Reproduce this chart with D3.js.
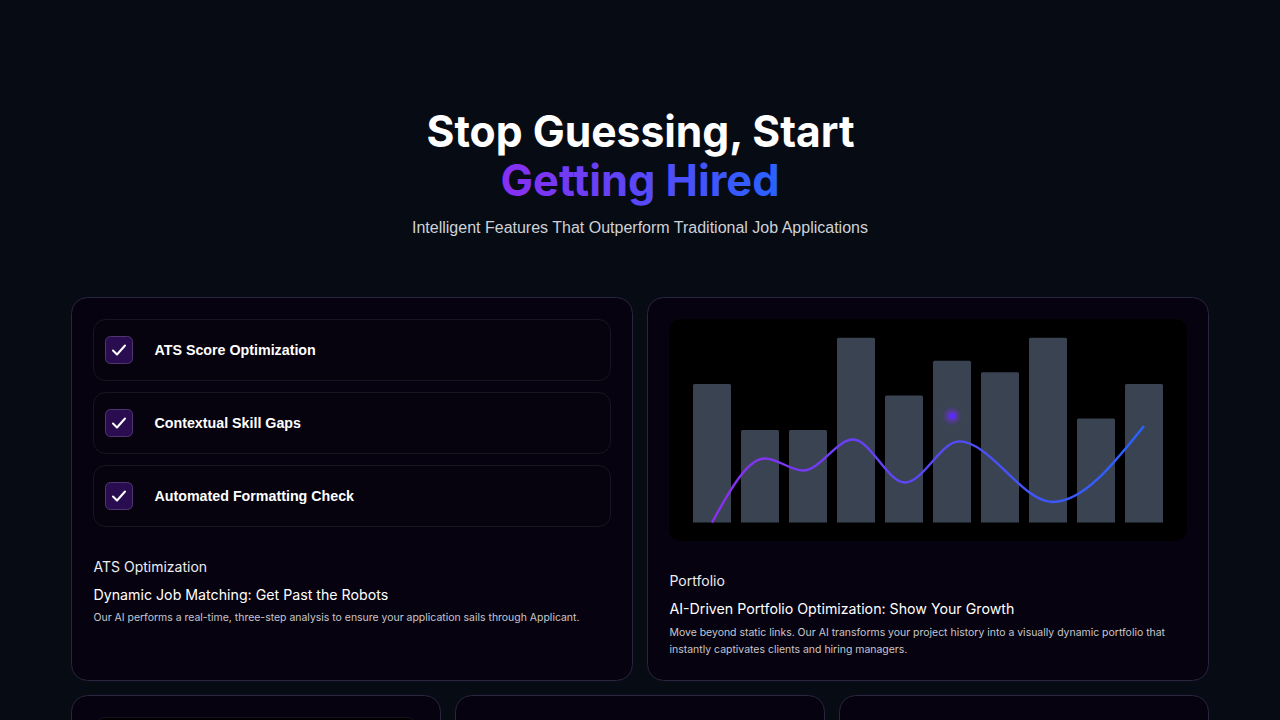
<!DOCTYPE html>
<html><head><meta charset="utf-8">
<script src="https://cdn.jsdelivr.net/npm/d3@7"></script>
<style>html,body{margin:0;padding:0;background:#070b13;overflow:hidden}svg{display:block}</style>
</head><body>
<script>
const barLabels = ["1","2","3","4","5","6","7","8","9","10"];
const barValues = [60,40,40,80,55,70,65,80,45,60];
const lineIndex = [0,1.104,1.896,2.94,4.02,5.146,7.104,9];
const lineValues = [0,27.7,22.5,35.9,17.3,35.1,8.9,41.8];
const features = ["ATS Score Optimization","Contextual Skill Gaps","Automated Formatting Check"];

const W=1280,H=720;
const C0="#8a2ef0",C1="#2962ff";
const svg=d3.select("body").append("svg").attr("width",W).attr("height",H);
const defs=svg.append("defs");
const tg=defs.append("linearGradient").attr("id","tg").attr("gradientUnits","userSpaceOnUse").attr("x1",501).attr("x2",779).attr("y1",0).attr("y2",0);
tg.append("stop").attr("offset",0).attr("stop-color",C0);
tg.append("stop").attr("offset",1).attr("stop-color",C1);
const lg=defs.append("linearGradient").attr("id","lg").attr("gradientUnits","userSpaceOnUse").attr("x1",712).attr("x2",1144).attr("y1",0).attr("y2",0);
lg.append("stop").attr("offset",0).attr("stop-color",C0);
lg.append("stop").attr("offset",1).attr("stop-color",C1);
const rg=defs.append("radialGradient").attr("id","glow");
rg.append("stop").attr("offset",0).attr("stop-color","#7c2ff0").attr("stop-opacity",0.75);
rg.append("stop").attr("offset",1).attr("stop-color","#7c2ff0").attr("stop-opacity",0);
svg.append("rect").attr("width",W).attr("height",H).attr("fill","#070b13");

const heading="'Inter','Noto Sans',sans-serif", body="Inter,sans-serif", arial="'Liberation Sans',Arial,sans-serif";
function txt(s,x,y,size,weight,fill,family,anchor,tl){
  const t=svg.append("text").attr("x",x).attr("y",y).attr("font-size",size).attr("font-weight",weight)
   .attr("fill",fill).attr("font-family",family).attr("text-anchor",anchor||"start").text(s);
  if(tl)t.attr("textLength",tl).attr("lengthAdjust","spacingAndGlyphs");
  return t;
}
txt("Stop Guessing, Start",640.5,147,44,700,"#fff",heading,"middle",428);
txt("Getting Hired",640,196,44,700,"url(#tg)",heading,"middle",279);
txt("Intelligent Features That Outperform Traditional Job Applications",640,233,16,400,"#cfd2d8",arial,"middle");

function card(x,y,w,h){svg.append("rect").attr("x",x+.5).attr("y",y+.5).attr("width",w-1).attr("height",h-1).attr("rx",16)
  .attr("fill","#06020f").attr("stroke","#2b2542");}
card(71,297,562,384);card(647,297,562,384);card(71,695,370,60);card(455,695,370,60);card(839,695,370,60);
svg.append("rect").attr("x",93.5).attr("y",717.5).attr("width",325).attr("height",40).attr("rx",12).attr("fill","#000").attr("stroke","#15131f");

features.forEach((f,i)=>{
  const y=319+i*73;
  svg.append("rect").attr("x",93.5).attr("y",y+.5).attr("width",517).attr("height",61).attr("rx",12).attr("fill","#06030e").attr("stroke","#181622");
  svg.append("rect").attr("x",105.5).attr("y",y+17.5).attr("width",27).attr("height",27).attr("rx",5).attr("fill","#2a0d50").attr("stroke","#4f3670");
  svg.append("path").attr("d",d3.line()([[113,y+31.5],[117,y+35.5],[125,y+26.5]])).attr("fill","none").attr("stroke","#fff").attr("stroke-width",2).attr("stroke-linecap","round").attr("stroke-linejoin","round");
  txt(f,154.5,y+36,14.25,700,"#fff",arial);
});
txt("ATS Optimization",93.5,572,14,400,"#eceef2",body);
txt("Dynamic Job Matching: Get Past the Robots",93.5,600,14.2,400,"#fff",body);
txt("Our AI performs a real-time, three-step analysis to ensure your application sails through Applicant.",93.5,621,10.46,400,"#c6c7cc",body);
txt("Portfolio",669.5,586,14,400,"#eceef2",body);
txt("AI-Driven Portfolio Optimization: Show Your Growth",669.5,614,14.2,400,"#fff",body);
txt("Move beyond static links. Our AI transforms your project history into a visually dynamic portfolio that",669.5,636,10.46,400,"#c6c7cc",body);
txt("instantly captivates clients and hiring managers.",669.5,653,10.46,400,"#c6c7cc",body);

svg.append("rect").attr("x",669).attr("y",319).attr("width",518).attr("height",222).attr("rx",12).attr("fill","#000");
const x=d3.scaleBand().domain(barLabels).range([693,1163]).paddingInner(10/48).paddingOuter(0);
const xi=d3.scaleLinear().domain([0,9]).range([712,1144]);
const y=d3.scaleLinear().domain([0,100]).range([522.5,291.5]);
svg.append("g").selectAll("path").data(barValues).join("path").attr("fill","#3a4352")
 .attr("d",(v,i)=>{const x0=x(barLabels[i]),w=x.bandwidth(),t=y(v),b=y(0),r=1.5;
   return `M${x0},${b}V${t+r}Q${x0},${t} ${x0+r},${t}H${x0+w-r}Q${x0+w},${t} ${x0+w},${t+r}V${b}Z`;});
const line=d3.line().x(d=>xi(d[0])).y(d=>y(d[1])).curve(d3.curveMonotoneX);
svg.append("path").datum(lineIndex.map((d,i)=>[d,lineValues[i]])).attr("d",line).attr("fill","none").attr("stroke","url(#lg)").attr("stroke-width",2.4);
svg.append("circle").attr("cx",952).attr("cy",416).attr("r",10).attr("fill","url(#glow)");
svg.append("circle").attr("cx",952).attr("cy",416).attr("r",3.5).attr("fill","#5a2cf8");
</script>
</body></html>
